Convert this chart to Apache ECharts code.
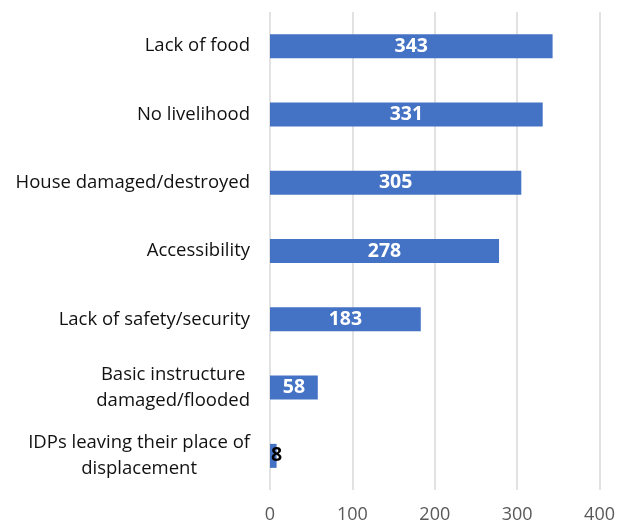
<!DOCTYPE html>
<html><head><meta charset="utf-8">
<script src="https://cdn.jsdelivr.net/npm/echarts@6/dist/echarts.min.js"></script>
<style>html,body{margin:0;padding:0;background:#fff}#c{width:618px;height:526px}</style>
</head><body><div id="c"></div>
<script>
const categories = [
  "Lack of food",
  "No livelihood",
  "House damaged/destroyed",
  "Accessibility",
  "Lack of safety/security",
  "Basic instructure\ndamaged/flooded",
  "IDPs leaving their place of\ndisplacement"
];
const values = [343, 331, 305, 278, 183, 58, 8];
const xTicks = [0, 100, 200, 300, 400];

const chart = echarts.init(document.getElementById('c'), null, {renderer: 'canvas'});
const font = '"Open Sans", Lato, sans-serif';
chart.setOption({
  animation: false,
  grid: {left: 270, right: 16, top: 12, bottom: 36},
  xAxis: {
    type: 'value', min: xTicks[0], max: xTicks[xTicks.length - 1], interval: 100,
    axisLine: {show: false}, axisTick: {show: false},
    splitLine: {lineStyle: {color: '#d9d9d9', width: 1.5}},
    axisLabel: {color: '#595959', fontSize: 18, fontFamily: font, margin: 16}
  },
  yAxis: {
    type: 'category', data: categories, inverse: true,
    axisLine: {show: false}, axisTick: {show: false},
    axisLabel: {
      color: '#111', fontSize: 18.5, fontFamily: font, margin: 20, lineHeight: 26, align: 'right',
      formatter: v => v.split('\n').map(s => '{c|' + s + '}').join('\n'),
      rich: {c: {align: 'center', color: '#111', fontSize: 18.5, fontFamily: font, lineHeight: 26}}
    }
  },
  series: [{
    type: 'bar', barWidth: 24,
    itemStyle: {color: '#4472C4'},
    data: values.map(v => v < 20 ? {value: v, label: {color: '#000', position: 'insideLeft', offset: [-4, 0]}} : v),
    label: {show: true, position: 'inside', color: '#fff', fontWeight: 'bold', fontSize: 19.5, fontFamily: font}
  }]
});
</script></body></html>
